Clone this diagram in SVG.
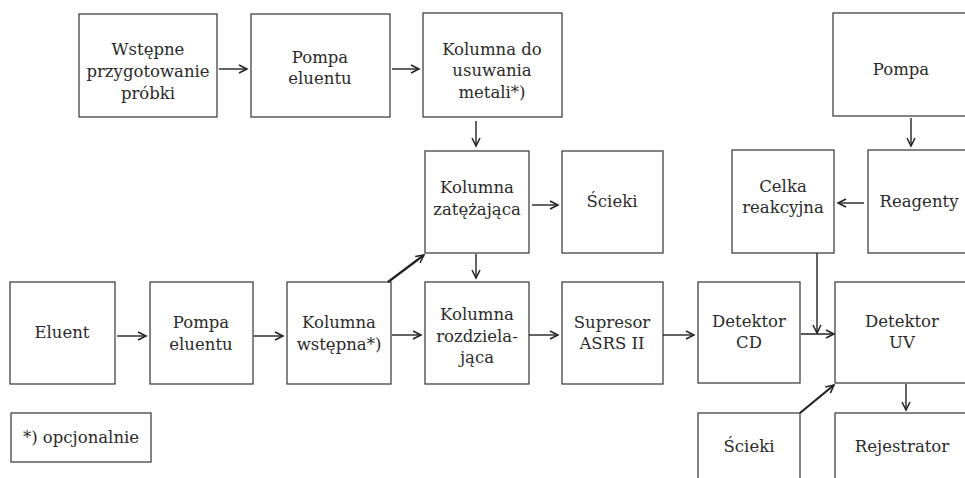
<svg xmlns="http://www.w3.org/2000/svg" width="965" height="478" viewBox="0 0 965 478">
<style>
.b{fill:#fff;stroke:#333;stroke-width:1.2}
.t{font-family:"DejaVu Serif","Liberation Serif",serif;font-size:16.5px;fill:#2a2a2a;text-anchor:middle}
.c line{stroke:#222;stroke-width:1.4;marker-end:url(#ah)}
.c line.d{stroke-width:2.2}
</style>
<defs>
<marker id="ah" markerUnits="userSpaceOnUse" markerWidth="12" markerHeight="12" refX="9" refY="5" orient="auto">
<path d="M1,1 L9,5 L1,9" fill="none" stroke="#222" stroke-width="1.5"/>
</marker>
</defs>
<rect width="965" height="478" fill="#fff"/>
<g id="wstepne"><rect class="b" x="79" y="14" width="138" height="103"/><text class="t" x="148" y="55">Wstępne</text><text class="t" x="148" y="77">przygotowanie</text><text class="t" x="148" y="99">próbki</text></g>
<g id="pompa1"><rect class="b" x="251" y="14" width="139" height="103"/><text class="t" x="320" y="63">Pompa</text><text class="t" x="320" y="84">eluentu</text></g>
<g id="kol_metali"><rect class="b" x="423" y="13" width="139" height="104"/><text class="t" x="492" y="55">Kolumna do</text><text class="t" x="492" y="76">usuwania</text><text class="t" x="492" y="98">metali*)</text></g>
<g id="pompa_r"><rect class="b" x="833" y="13" width="137" height="103"/><text class="t" x="901" y="75">Pompa</text></g>
<g id="kol_zat"><rect class="b" x="425" y="151" width="104" height="102"/><text class="t" x="477" y="193">Kolumna</text><text class="t" x="477" y="215">zatężająca</text></g>
<g id="scieki1"><rect class="b" x="562" y="151" width="101" height="102"/><text class="t" x="612" y="207">Ścieki</text></g>
<g id="celka"><rect class="b" x="732" y="150" width="102" height="103"/><text class="t" x="783" y="192">Celka</text><text class="t" x="783" y="213">reakcyjna</text></g>
<g id="reagenty"><rect class="b" x="868" y="150" width="102" height="103"/><text class="t" x="919" y="207">Reagenty</text></g>
<g id="eluent"><rect class="b" x="10" y="282" width="105" height="102"/><text class="t" x="62" y="338">Eluent</text></g>
<g id="pompa2"><rect class="b" x="150" y="282" width="103" height="102"/><text class="t" x="201" y="328">Pompa</text><text class="t" x="201" y="350">eluentu</text></g>
<g id="kol_wst"><rect class="b" x="287" y="282" width="104" height="102"/><text class="t" x="339" y="328">Kolumna</text><text class="t" x="339" y="350">wstępna*)</text></g>
<g id="kol_roz"><rect class="b" x="425" y="282" width="104" height="102"/><text class="t" x="477" y="320">Kolumna</text><text class="t" x="477" y="342">rozdziela-</text><text class="t" x="477" y="363">jąca</text></g>
<g id="supresor"><rect class="b" x="562" y="282" width="101" height="102"/><text class="t" x="612" y="328">Supresor</text><text class="t" x="612" y="349">ASRS II</text></g>
<g id="det_cd"><rect class="b" x="698" y="282" width="102" height="101"/><text class="t" x="749" y="327">Detektor</text><text class="t" x="749" y="348">CD</text></g>
<g id="det_uv"><rect class="b" x="835" y="282" width="135" height="101"/><text class="t" x="902" y="327">Detektor</text><text class="t" x="902" y="348">UV</text></g>
<g id="scieki2"><rect class="b" x="698" y="413" width="102" height="80"/><text class="t" x="749" y="452">Ścieki</text></g>
<g id="rejestrator"><rect class="b" x="835" y="413" width="135" height="80"/><text class="t" x="902" y="452">Rejestrator</text></g>
<g id="legend"><rect class="b" x="11" y="413" width="140" height="49"/><text class="t" x="81" y="443">*) opcjonalnie</text></g>
<g id="connectors" class="c">
<line x1="219" y1="69" x2="247" y2="69"/>
<line x1="392" y1="69" x2="419" y2="69"/>
<line x1="476" y1="121" x2="476" y2="146"/>
<line x1="532" y1="205" x2="558" y2="205"/>
<line x1="476" y1="254" x2="476" y2="278"/>
<line class="d" x1="388" y1="282" x2="424" y2="255"/>
<line x1="117" y1="336" x2="146" y2="336"/>
<line x1="254" y1="336" x2="283" y2="336"/>
<line x1="392" y1="335" x2="421" y2="335"/>
<line x1="529" y1="335" x2="558" y2="335"/>
<line x1="663" y1="335" x2="694" y2="335"/>
<line x1="801" y1="334" x2="834" y2="334"/>
<line x1="817" y1="253" x2="817" y2="333"/>
<line x1="864" y1="203" x2="838" y2="203"/>
<line x1="911" y1="118" x2="911" y2="146"/>
<line x1="906" y1="384" x2="906" y2="410"/>
<line class="d" x1="800" y1="413" x2="834" y2="385"/>
</g>
</svg>
